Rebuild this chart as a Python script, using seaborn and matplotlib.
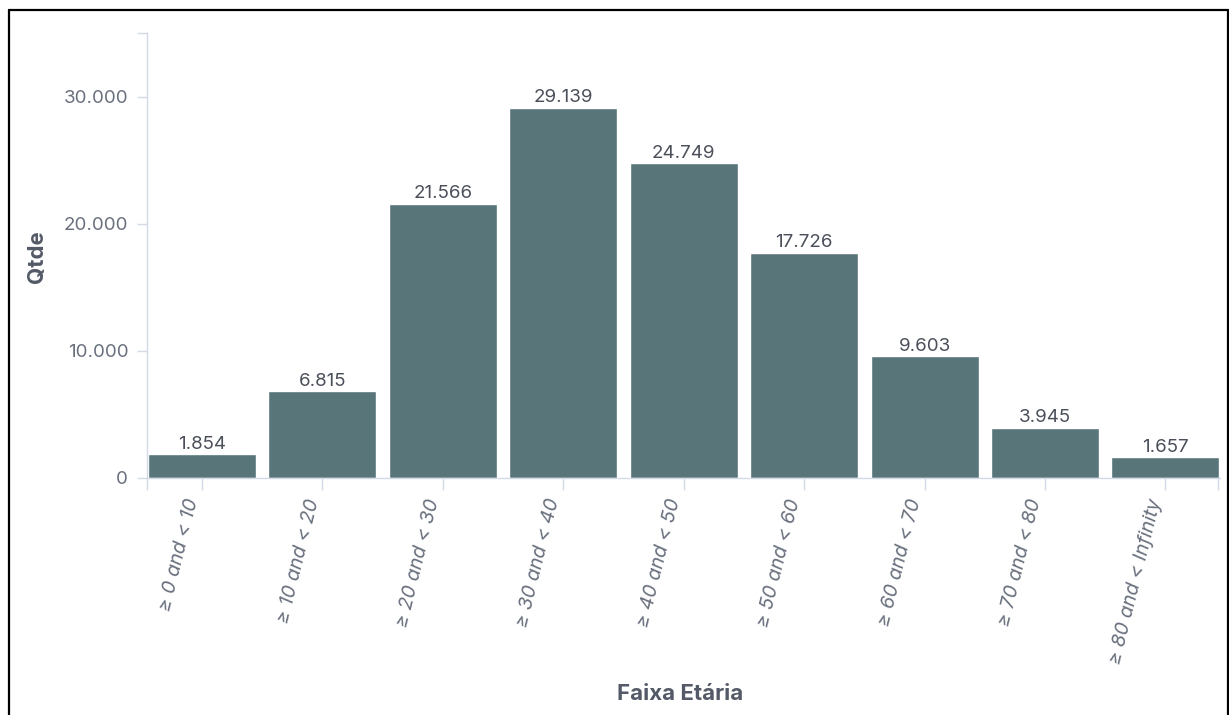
import matplotlib
matplotlib.use("Agg")
import matplotlib.pyplot as plt
import matplotlib.transforms as mtransforms
import seaborn as sns
import pandas as pd
from matplotlib.lines import Line2D

faixas = ["≥ 0 and < 10", "≥ 10 and < 20", "≥ 20 and < 30", "≥ 30 and < 40",
          "≥ 40 and < 50", "≥ 50 and < 60", "≥ 60 and < 70", "≥ 70 and < 80",
          "≥ 80 and < Infinity"]
qtde = [1854, 6815, 21566, 29139, 24749, 17726, 9603, 3945, 1657]
yticks = [0, 10000, 20000, 30000, 35000]
ytick_labels = ["0", "10.000", "20.000", "30.000", ""]

df = pd.DataFrame({"faixa": faixas, "qtde": qtde})

sns.set_style("white")
plt.rcParams['font.family'] = ['Inter', 'DejaVu Sans']

bar_color = "#587579"
tick_color = "#69707d"
label_color = "#535966"
axis_color = "#d3dae6"

fig = plt.figure(figsize=(12.29, 7.15), dpi=100)
ax = fig.add_axes([0.1196, 0.3315, 0.873, 0.6223])

sns.barplot(data=df, x="faixa", y="qtde", color=bar_color, width=0.897,
            saturation=1, ax=ax)

ax.set_ylim(0, 35000)
ax.set_xlim(-0.457, 8.453)
ax.set_yticks(yticks)
ax.set_yticklabels(ytick_labels)

labels = [f"{v:,}".replace(",", ".") for v in qtde]
ax.bar_label(ax.containers[0], labels=labels, padding=1, fontsize=13.5,
             color="#4a4f5a")

ax.set_xticks(range(len(faixas)))
ax.set_xticklabels(faixas, rotation=76, ha="right", va="top", style="italic",
                   fontsize=14, color=tick_color)
offset = mtransforms.ScaledTranslation(5 / 100, 0, fig.dpi_scale_trans)
for lbl in ax.get_xticklabels():
    lbl.set_transform(lbl.get_transform() + offset)

ax.set_xticks([-0.457, 8.44], minor=True)
ax.tick_params(axis="x", which="both", bottom=True, length=8.6, color=axis_color,
               width=1, pad=5)
ax.tick_params(axis="y", left=True, length=7, color=axis_color, width=1,
               labelsize=13.5, labelcolor=tick_color, pad=6.5)

for side in ["top", "right"]:
    ax.spines[side].set_visible(False)
for side in ["left", "bottom"]:
    ax.spines[side].set_color(axis_color)
    ax.spines[side].set_linewidth(1)

ax.set_xlabel("Faixa Etária", fontsize=16, fontweight="bold", color=label_color)
ax.set_ylabel("Qtde", fontsize=16, fontweight="bold", color=label_color)
ax.xaxis.set_label_coords(0.497, -0.463)
ax.yaxis.set_label_coords(-0.093, 0.497)

# moldura preta da captura
W, H = 1229, 715
fig.add_artist(Line2D([9 / W, 9 / W], [0, 1 - 10 / H], color="black", lw=1.6,
                      transform=fig.transFigure))
fig.add_artist(Line2D([9 / W, 1228 / W], [1 - 10 / H, 1 - 10 / H], color="black",
                      lw=1.6, transform=fig.transFigure))
fig.add_artist(Line2D([1228 / W, 1228 / W], [0, 1 - 10 / H], color="black", lw=1.6,
                      transform=fig.transFigure))

fig.savefig("out.png", dpi=100)
